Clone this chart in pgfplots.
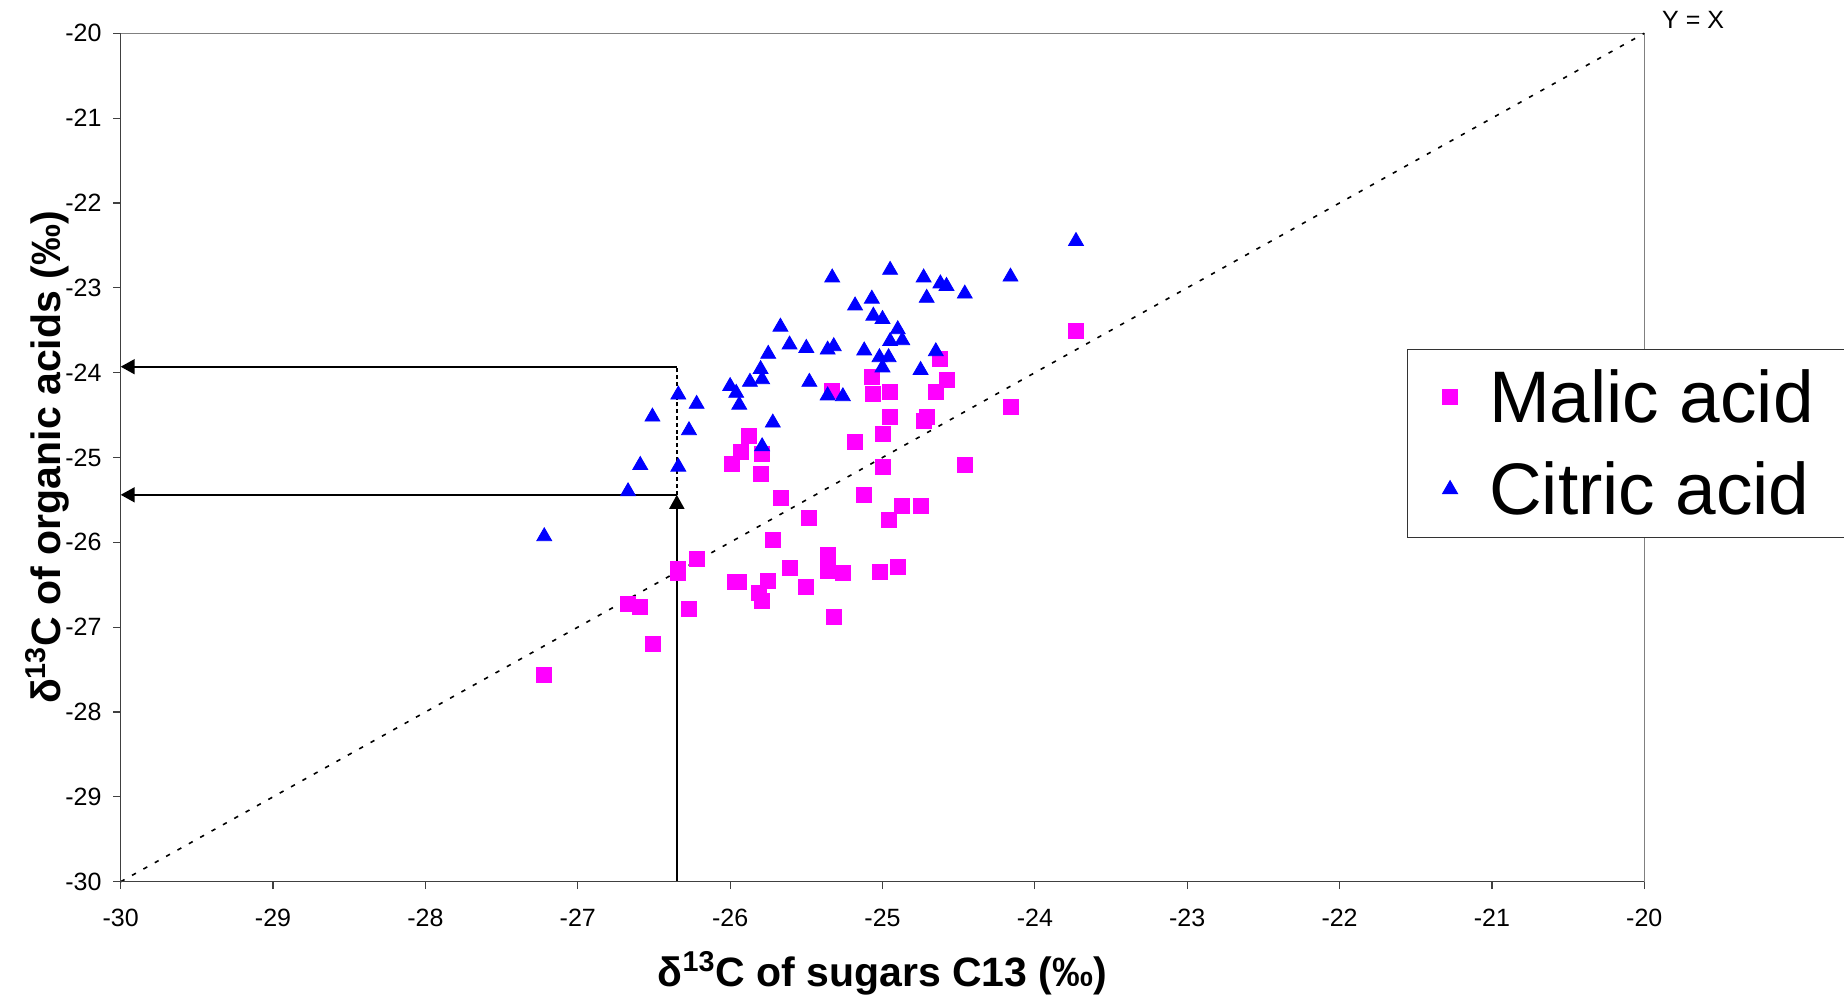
\documentclass[border=0pt]{standalone}
\usepackage{fontspec}
\setmainfont{Liberation Sans}
\usepackage{pgfplots}
\pgfplotsset{compat=1.18}
\usepackage{pgfplotstable}
\usetikzlibrary{arrows.meta}

\pgfplotstableread{
x y
-27.22 -27.56
-26.67 -26.72
-26.59 -26.76
-26.51 -27.20
-26.34 -26.31
-26.34 -26.36
-26.27 -26.79
-26.22 -26.19
-25.99 -25.08
-25.97 -26.47
-25.94 -26.47
-25.93 -24.93
-25.88 -24.75
-25.81 -26.60
-25.80 -25.19
-25.79 -24.96
-25.79 -26.69
-25.75 -26.46
-25.72 -25.97
-25.67 -25.48
-25.61 -26.30
-25.50 -26.53
-25.48 -25.71
-25.36 -26.15
-25.36 -26.34
-25.32 -26.88
-25.33 -24.22
-25.26 -26.36
-25.18 -24.82
-25.12 -25.44
-25.07 -24.05
-25.06 -24.25
-25.02 -26.35
-25.00 -24.72
-25.00 -25.11
-24.95 -24.23
-24.95 -24.52
-24.96 -25.74
-24.90 -26.29
-24.87 -25.57
-24.75 -25.57
-24.73 -24.57
-24.71 -24.52
-24.65 -24.23
-24.62 -23.84
-24.58 -24.08
-24.46 -25.09
-24.16 -24.40
-23.73 -23.51
}\malic

\pgfplotstableread{
x y
-27.22 -25.93
-26.67 -25.40
-26.59 -25.09
-26.51 -24.52
-26.34 -24.26
-26.34 -25.11
-26.27 -24.68
-26.22 -24.37
-26.00 -24.16
-25.96 -24.24
-25.94 -24.38
-25.87 -24.11
-25.79 -24.08
-25.80 -23.96
-25.79 -24.87
-25.75 -23.78
-25.72 -24.59
-25.67 -23.46
-25.61 -23.67
-25.50 -23.71
-25.48 -24.11
-25.36 -23.73
-25.33 -22.88
-25.32 -23.69
-25.36 -24.27
-25.26 -24.28
-25.18 -23.21
-25.12 -23.74
-25.07 -23.13
-25.06 -23.33
-25.02 -23.82
-25.00 -23.37
-25.00 -23.94
-24.95 -22.79
-24.96 -23.82
-24.95 -23.63
-24.90 -23.49
-24.87 -23.62
-24.75 -23.97
-24.73 -22.88
-24.71 -23.12
-24.65 -23.75
-24.62 -22.95
-24.58 -22.98
-24.46 -23.07
-24.16 -22.87
-23.73 -22.45
}\citric

\definecolor{malic}{RGB}{255,0,255}
\definecolor{citric}{RGB}{0,0,255}

\begin{document}
\begin{tikzpicture}
\begin{axis}[
  scale only axis,
  width=761.8pt, height=424.2pt,
  xmin=-30, xmax=-20, ymin=-30, ymax=-20,
  xtick={-30,-29,...,-20}, ytick={-30,-29,...,-20},
  tick pos=left, tick align=outside,
  major tick length=3.7pt,
  every tick/.style={black!75, line width=0.6pt},
  axis line style={draw=black!50, line width=0.6pt},
  /pgf/number format/assume math mode=true,
  ticklabel style={font=\fontsize{12.5}{15}\selectfont},
  xticklabel style={yshift=-6.5pt},
  yticklabel style={xshift=-2.4pt},
  xlabel={δ\textsuperscript{13}C of sugars C13 (‰)},
  ylabel={δ\textsuperscript{13}C of organic acids (‰)},
  xlabel style={font=\bfseries\fontsize{20.5}{24}\selectfont, at={(rel axis cs:0.5,0)}, anchor=center, yshift=-46pt},
  ylabel style={font=\bfseries\fontsize{20.5}{24}\selectfont, at={(rel axis cs:0,0.5)}, anchor=center, yshift=36.9pt},
  legend style={at={(rel axis cs:0.8443,0.6279)}, anchor=north west,
    draw=black!80, line width=0.5pt, fill=white,
    font=\fontsize{36.5}{44}\selectfont,
    inner xsep=17.5pt, inner ysep=8pt, row sep=14pt, column sep=13.8pt},
  legend cell align=left,
  clip=false,
]
\addplot[forget plot, black, line width=0.8pt, dash pattern=on 2.2pt off 4.3pt] coordinates {(-30,-30) (-20,-20)};
\addplot[only marks, mark=square*, mark size=3.75pt, color=malic, mark options={draw=malic, fill=malic}] table[x=x,y=y] {\malic};
\addlegendentry{Malic acid\hspace*{30pt}}
\addplot[only marks, mark=triangle*, mark size=4.3pt, color=citric, mark options={draw=citric, fill=citric}] table[x=x,y=y] {\citric};
\addlegendentry{Citric acid}
\addplot[forget plot, black, line width=0.9pt, -{Triangle[length=7pt,width=7.5pt]}] coordinates {(-26.35,-23.93) (-30,-23.93)};
\addplot[forget plot, black, line width=0.9pt, -{Triangle[length=7pt,width=7.5pt]}] coordinates {(-26.35,-25.44) (-30,-25.44)};
\addplot[forget plot, black, line width=0.9pt, -{Triangle[length=7pt,width=7.5pt]}] coordinates {(-26.35,-30) (-26.35,-25.44)};
\addplot[forget plot, black, line width=0.9pt, dash pattern=on 2pt off 1.4pt] coordinates {(-26.35,-25.44) (-26.35,-23.93)};
\draw[black!75, line width=0.7pt] (rel axis cs:0,1) -- (rel axis cs:0,0) -- (rel axis cs:1,0);
\node[font=\fontsize{12.5}{15}\selectfont, anchor=center] at (rel axis cs:1,1) [xshift=24.4pt, yshift=6.5pt] {Y = X};
\end{axis}
\pgfresetboundingbox
\path[use as bounding box] (-60.35pt,-57.65pt) rectangle (861.65pt,440.85pt);
\end{tikzpicture}
\end{document}
